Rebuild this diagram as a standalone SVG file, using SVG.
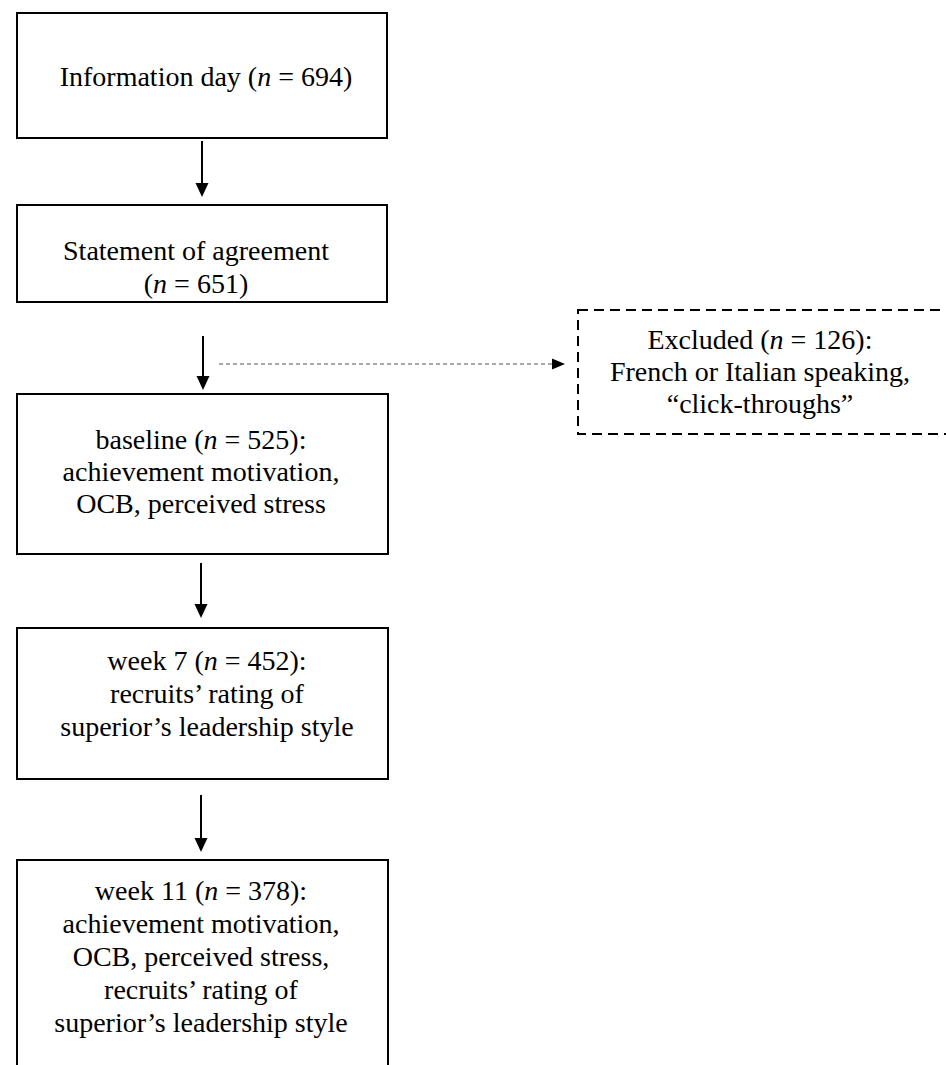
<svg xmlns="http://www.w3.org/2000/svg" width="946" height="1065" viewBox="0 0 946 1065">
<style>
.box{fill:#fff;stroke:#000;stroke-width:2}
.dbox{fill:#fff;stroke:#000;stroke-width:2;stroke-dasharray:10 6}
.t{font-family:"Liberation Serif","Times New Roman",serif;font-size:28px;fill:#000;text-anchor:middle}
.i{font-style:italic}
.arr{stroke:#000;stroke-width:2;fill:none}
.darr{stroke:#555;stroke-width:1;stroke-dasharray:4 3;fill:none}
</style>
<rect width="946" height="1065" fill="#fff"/>
<g id="connectors">
<line class="arr" x1="202" y1="141" x2="202" y2="183"/>
<path d="M195.5,183 L208.5,183 L202,197 Z" fill="#000"/>
<line class="arr" x1="203" y1="336" x2="203" y2="376"/>
<path d="M196.5,376 L209.5,376 L203,390 Z" fill="#000"/>
<line class="arr" x1="201" y1="563" x2="201" y2="604"/>
<path d="M194.5,604 L207.5,604 L201,618 Z" fill="#000"/>
<line class="arr" x1="201" y1="795" x2="201" y2="838"/>
<path d="M194.5,838 L207.5,838 L201,852 Z" fill="#000"/>
<line class="darr" x1="219" y1="364" x2="553" y2="364"/>
<path d="M552,358.5 L565,364 L552,369.5 Z" fill="#000"/>
</g>
<g id="node1">
<rect class="box" x="17" y="13" width="370" height="125"/>
<text class="t" x="206" y="86">Information day (<tspan class="i">n</tspan> = 694)</text>
</g>
<g id="node2">
<rect class="box" x="17" y="205" width="370" height="97"/>
<text class="t" x="196" y="260">Statement of agreement</text>
<text class="t" x="196" y="293">(<tspan class="i">n</tspan> = 651)</text>
</g>
<g id="node3">
<rect class="box" x="17" y="394" width="371" height="160"/>
<text class="t" x="201" y="449">baseline (<tspan class="i">n</tspan> = 525):</text>
<text class="t" x="201" y="481">achievement motivation,</text>
<text class="t" x="201" y="513">OCB, perceived stress</text>
</g>
<g id="node4">
<rect class="box" x="17" y="628" width="371" height="151"/>
<text class="t" x="207" y="670">week 7 (<tspan class="i">n</tspan> = 452):</text>
<text class="t" x="207" y="703">recruits’ rating of</text>
<text class="t" x="207" y="736">superior’s leadership style</text>
</g>
<g id="node5">
<rect class="box" x="17" y="860" width="371" height="230"/>
<text class="t" x="201" y="900">week 11 (<tspan class="i">n</tspan> = 378):</text>
<text class="t" x="201" y="933">achievement motivation,</text>
<text class="t" x="201" y="966">OCB, perceived stress,</text>
<text class="t" x="201" y="999">recruits’ rating of</text>
<text class="t" x="201" y="1032">superior’s leadership style</text>
</g>
<g id="node6">
<rect class="dbox" x="578" y="310" width="390" height="124"/>
<text class="t" x="760" y="349">Excluded (<tspan class="i">n</tspan> = 126):</text>
<text class="t" x="760" y="381">French or Italian speaking,</text>
<text class="t" x="760" y="413">“click-throughs”</text>
</g>
</svg>
